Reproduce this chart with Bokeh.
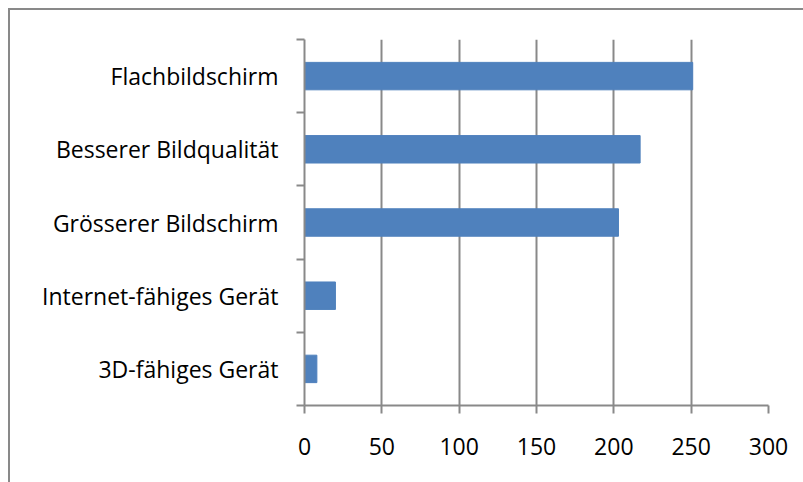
from bokeh.plotting import figure
from bokeh.models import FixedTicker, Range1d, ColumnDataSource
from bokeh.embed import file_html
from bokeh.resources import INLINE

categories = ["3D-fähiges Gerät", "Internet-fähiges Gerät", "Grösserer Bildschirm",
              "Besserer Bildqualität", "Flachbildschirm"]
values = [8, 20, 203, 217, 251]
x_ticks = [0, 50, 100, 150, 200, 250, 300]

GRAY = "#898989"
FONT = "Open Sans"

centers = [i + 0.5 for i in range(len(categories))]
src = ColumnDataSource(dict(y=centers, v=values, cat=categories))

p = figure(width=795, height=474, output_backend="svg", toolbar_location=None,
           x_range=Range1d(0, 300), y_range=Range1d(0, len(categories)),
           min_border_left=294, min_border_right=37, min_border_top=29, min_border_bottom=79)
p.margin = (8, 0, 0, 8)
p.outline_line_color = None
p.styles = {"border-left": f"2px solid {GRAY}", "border-top": f"2px solid {GRAY}"}

p.hbar(y="y", right="v", left=0, height=0.375, color="#4F81BD", source=src)

# x axis
p.xaxis.ticker = FixedTicker(ticks=x_ticks)
p.xaxis.minor_tick_line_color = None
p.xaxis.major_tick_in = 0
p.xaxis.major_tick_out = 8
p.xaxis.axis_line_color = GRAY
p.xaxis.axis_line_width = 2
p.xaxis.major_tick_line_color = GRAY
p.xaxis.major_tick_line_width = 2
p.xaxis.major_label_text_font = FONT
p.xaxis.major_label_text_font_size = "23px"
p.xaxis.major_label_text_color = "black"
p.xaxis.major_label_standoff = 24

# y axis: labels at centres, ticks at boundaries
p.yaxis.ticker = FixedTicker(ticks=centers, minor_ticks=list(range(len(categories) + 1)))
p.yaxis.major_label_overrides = {c: n for c, n in zip(centers, categories)}
p.yaxis.major_tick_line_color = None
p.yaxis.minor_tick_in = 0
p.yaxis.minor_tick_out = 8
p.yaxis.minor_tick_line_color = GRAY
p.yaxis.minor_tick_line_width = 2
p.yaxis.axis_line_color = GRAY
p.yaxis.axis_line_width = 2
p.yaxis.major_label_text_font = FONT
p.yaxis.major_label_text_font_size = "23px"
p.yaxis.major_label_text_color = "black"
p.yaxis.major_label_standoff = 18

p.xgrid.grid_line_color = GRAY
p.xgrid.grid_line_width = 2
p.ygrid.grid_line_color = None

open("out.html", "w").write(file_html(p, INLINE))
